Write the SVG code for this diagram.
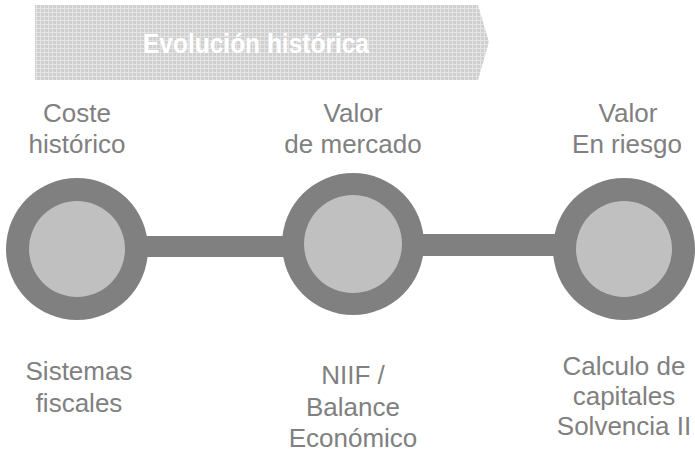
<svg xmlns="http://www.w3.org/2000/svg" width="695" height="453" viewBox="0 0 695 453">
<defs>
<pattern id="grid" width="4" height="4" patternUnits="userSpaceOnUse">
<rect width="4" height="4" fill="#cfcfcf"/>
<path d="M0 0.5H4M0.5 0V4" stroke="#e4e4e4" stroke-width="1"/>
</pattern>
<style>
.lbl{font-family:"Liberation Sans",Arial,sans-serif;font-size:26px;fill:#808080;text-anchor:middle}
.outer{fill:#808080}
.inner{fill:#c0c0c0}
.bar{fill:#808080}
</style>
</defs>
<rect width="695" height="453" fill="#ffffff"/>
<g id="banner">
<polygon points="35,5 478,5 489,42 478,80 35,80" fill="url(#grid)"/>
<text x="256" y="53" font-family="Liberation Sans,Arial,sans-serif" font-size="28" font-weight="bold" fill="#ffffff" text-anchor="middle" textLength="226" lengthAdjust="spacingAndGlyphs">Evolución histórica</text>
</g>
<g id="connectors">
<rect class="bar" x="140" y="236" width="160" height="21"/>
<rect class="bar" x="410" y="234" width="160" height="22"/>
</g>
<g id="node1">
<circle class="outer" cx="77" cy="249" r="71"/>
<circle class="inner" cx="77" cy="249" r="48"/>
<text class="lbl" x="77" y="122">Coste</text>
<text class="lbl" x="77" y="153">histórico</text>
<text class="lbl" x="79" y="380">Sistemas</text>
<text class="lbl" x="79" y="412">fiscales</text>
</g>
<g id="node2">
<circle class="outer" cx="353" cy="244" r="71"/>
<circle class="inner" cx="353" cy="244" r="49"/>
<text class="lbl" x="353" y="122">Valor</text>
<text class="lbl" x="353" y="153">de mercado</text>
<text class="lbl" x="353" y="384">NIIF /</text>
<text class="lbl" x="353" y="416">Balance</text>
<text class="lbl" x="353" y="447">Económico</text>
</g>
<g id="node3">
<circle class="outer" cx="624" cy="249" r="71"/>
<circle class="inner" cx="624" cy="249" r="48"/>
<text class="lbl" x="628" y="122">Valor</text>
<text class="lbl" x="627" y="153">En riesgo</text>
<text class="lbl" x="624" y="375">Calculo de</text>
<text class="lbl" x="624" y="405">capitales</text>
<text class="lbl" x="624" y="435">Solvencia II</text>
</g>
</svg>
